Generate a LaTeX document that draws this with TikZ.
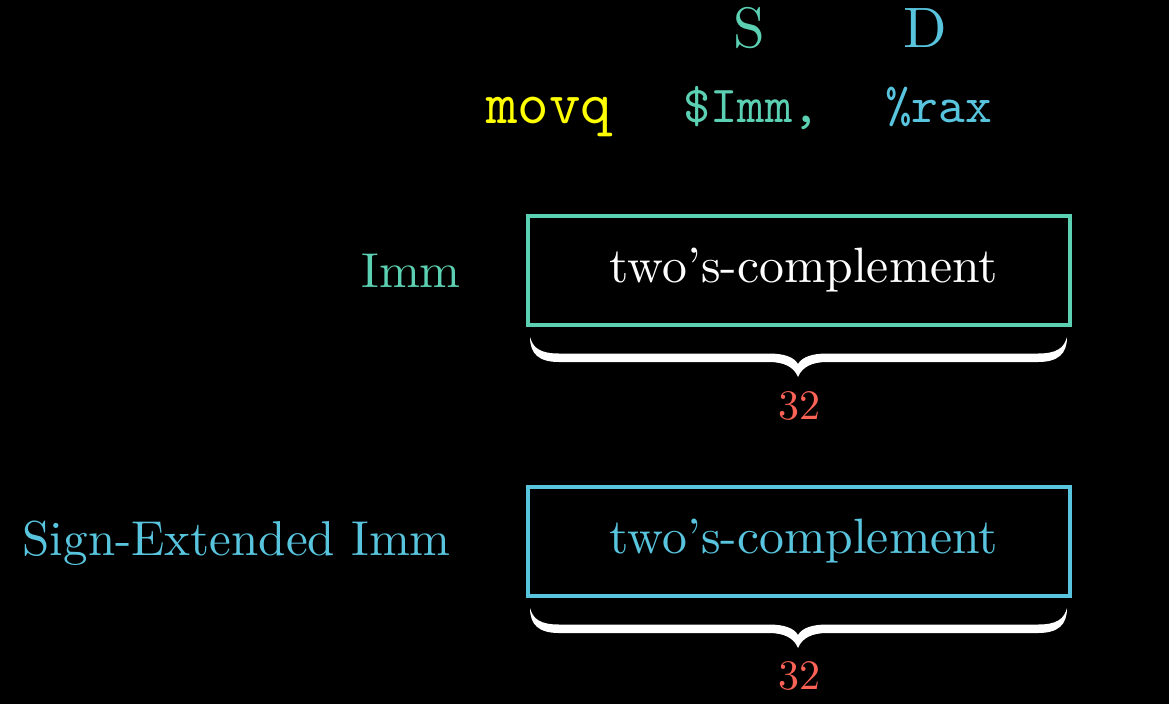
\documentclass[tikz,border=0pt]{standalone}
\usepackage{fontspec}
\definecolor{myyellow}{HTML}{FFFF00}
\definecolor{myteal}{HTML}{5CD0B3}
\definecolor{myblue}{HTML}{58C4DD}
\definecolor{myred}{HTML}{FC6255}
\newcommand{\sbx}[2]{\scalebox{#1}{#2}}
\tikzset{
  txt/.style={inner sep=0pt, font=\fontsize{10}{12}\selectfont},
  mono/.style={inner sep=0pt, anchor=base west, font=\fontsize{10}{12}\selectfont\ttfamily},
  num/.style={txt, text=myred, anchor=base},
  regbox/.style={draw, line width=4pt, minimum width=542pt, minimum height=109pt, inner sep=0pt, font=\fontsize{10}{12}\selectfont},
  bracepic/.pic={
    \fill[white] (0,0) .. controls (0,17) and (9,25) .. (29,25) -- (239,25)
      .. controls (254,25) and (264,30) .. (268,40)
      .. controls (272,30) and (282,25) .. (297,25) -- (508,25)
      .. controls (528,25) and (537,17) .. (537,0)
      .. controls (534,11) and (527,16.5) .. (508,16.5) -- (297,16.5)
      .. controls (282,16.5) and (272,20) .. (268,27)
      .. controls (264,20) and (254,16.5) .. (239,16.5) -- (29,16.5)
      .. controls (10,16.5) and (3,11) .. (0,0) -- cycle;
  }
}
\begin{document}
\begin{tikzpicture}[x=1pt,y=-1pt]
\fill[black] (0,0) rectangle (1169,704);
\useasboundingbox (0,0) rectangle (1169,704);
% header
\node[txt, text=myteal, anchor=base] (S) at (749,47) {\sbx{5.7}{S}};
\node[txt, text=myblue, anchor=base] (D) at (925,47) {\sbx{5.7}{D}};
\node[mono, text=myyellow] (movq) at (486,123) {\sbx{6}{movq}};
\node[mono, text=myteal] (imm) at (683,122) {\sbx{5.2}{\$Imm,}};
\node[mono, text=myblue] (rax) at (885,122) {\sbx{5.1}{\%rax}};
% top row
\node[txt, text=myteal, anchor=base east] (immlbl) at (461,287) {\sbx{4.9}{Imm}};
\node[regbox, draw=myteal, text=white] (box1) at (799,270.5) {\hspace*{10pt}\sbx{4.97}{two's-complement}};
\pic at (530,337) {bracepic};
\node[num] (n1) at (799,419) {\sbx{4.2}{32}};
% bottom row
\node[txt, text=myblue, anchor=base east] (selbl) at (451,555) {\sbx{4.9}{Sign-Extended Imm}};
\node[regbox, draw=myblue, text=myblue] (box2) at (799,541.5) {\hspace*{10pt}\sbx{4.97}{two's-complement}};
\pic at (530,608) {bracepic};
\node[num] (n2) at (799,689) {\sbx{4.2}{32}};
\end{tikzpicture}
\end{document}
